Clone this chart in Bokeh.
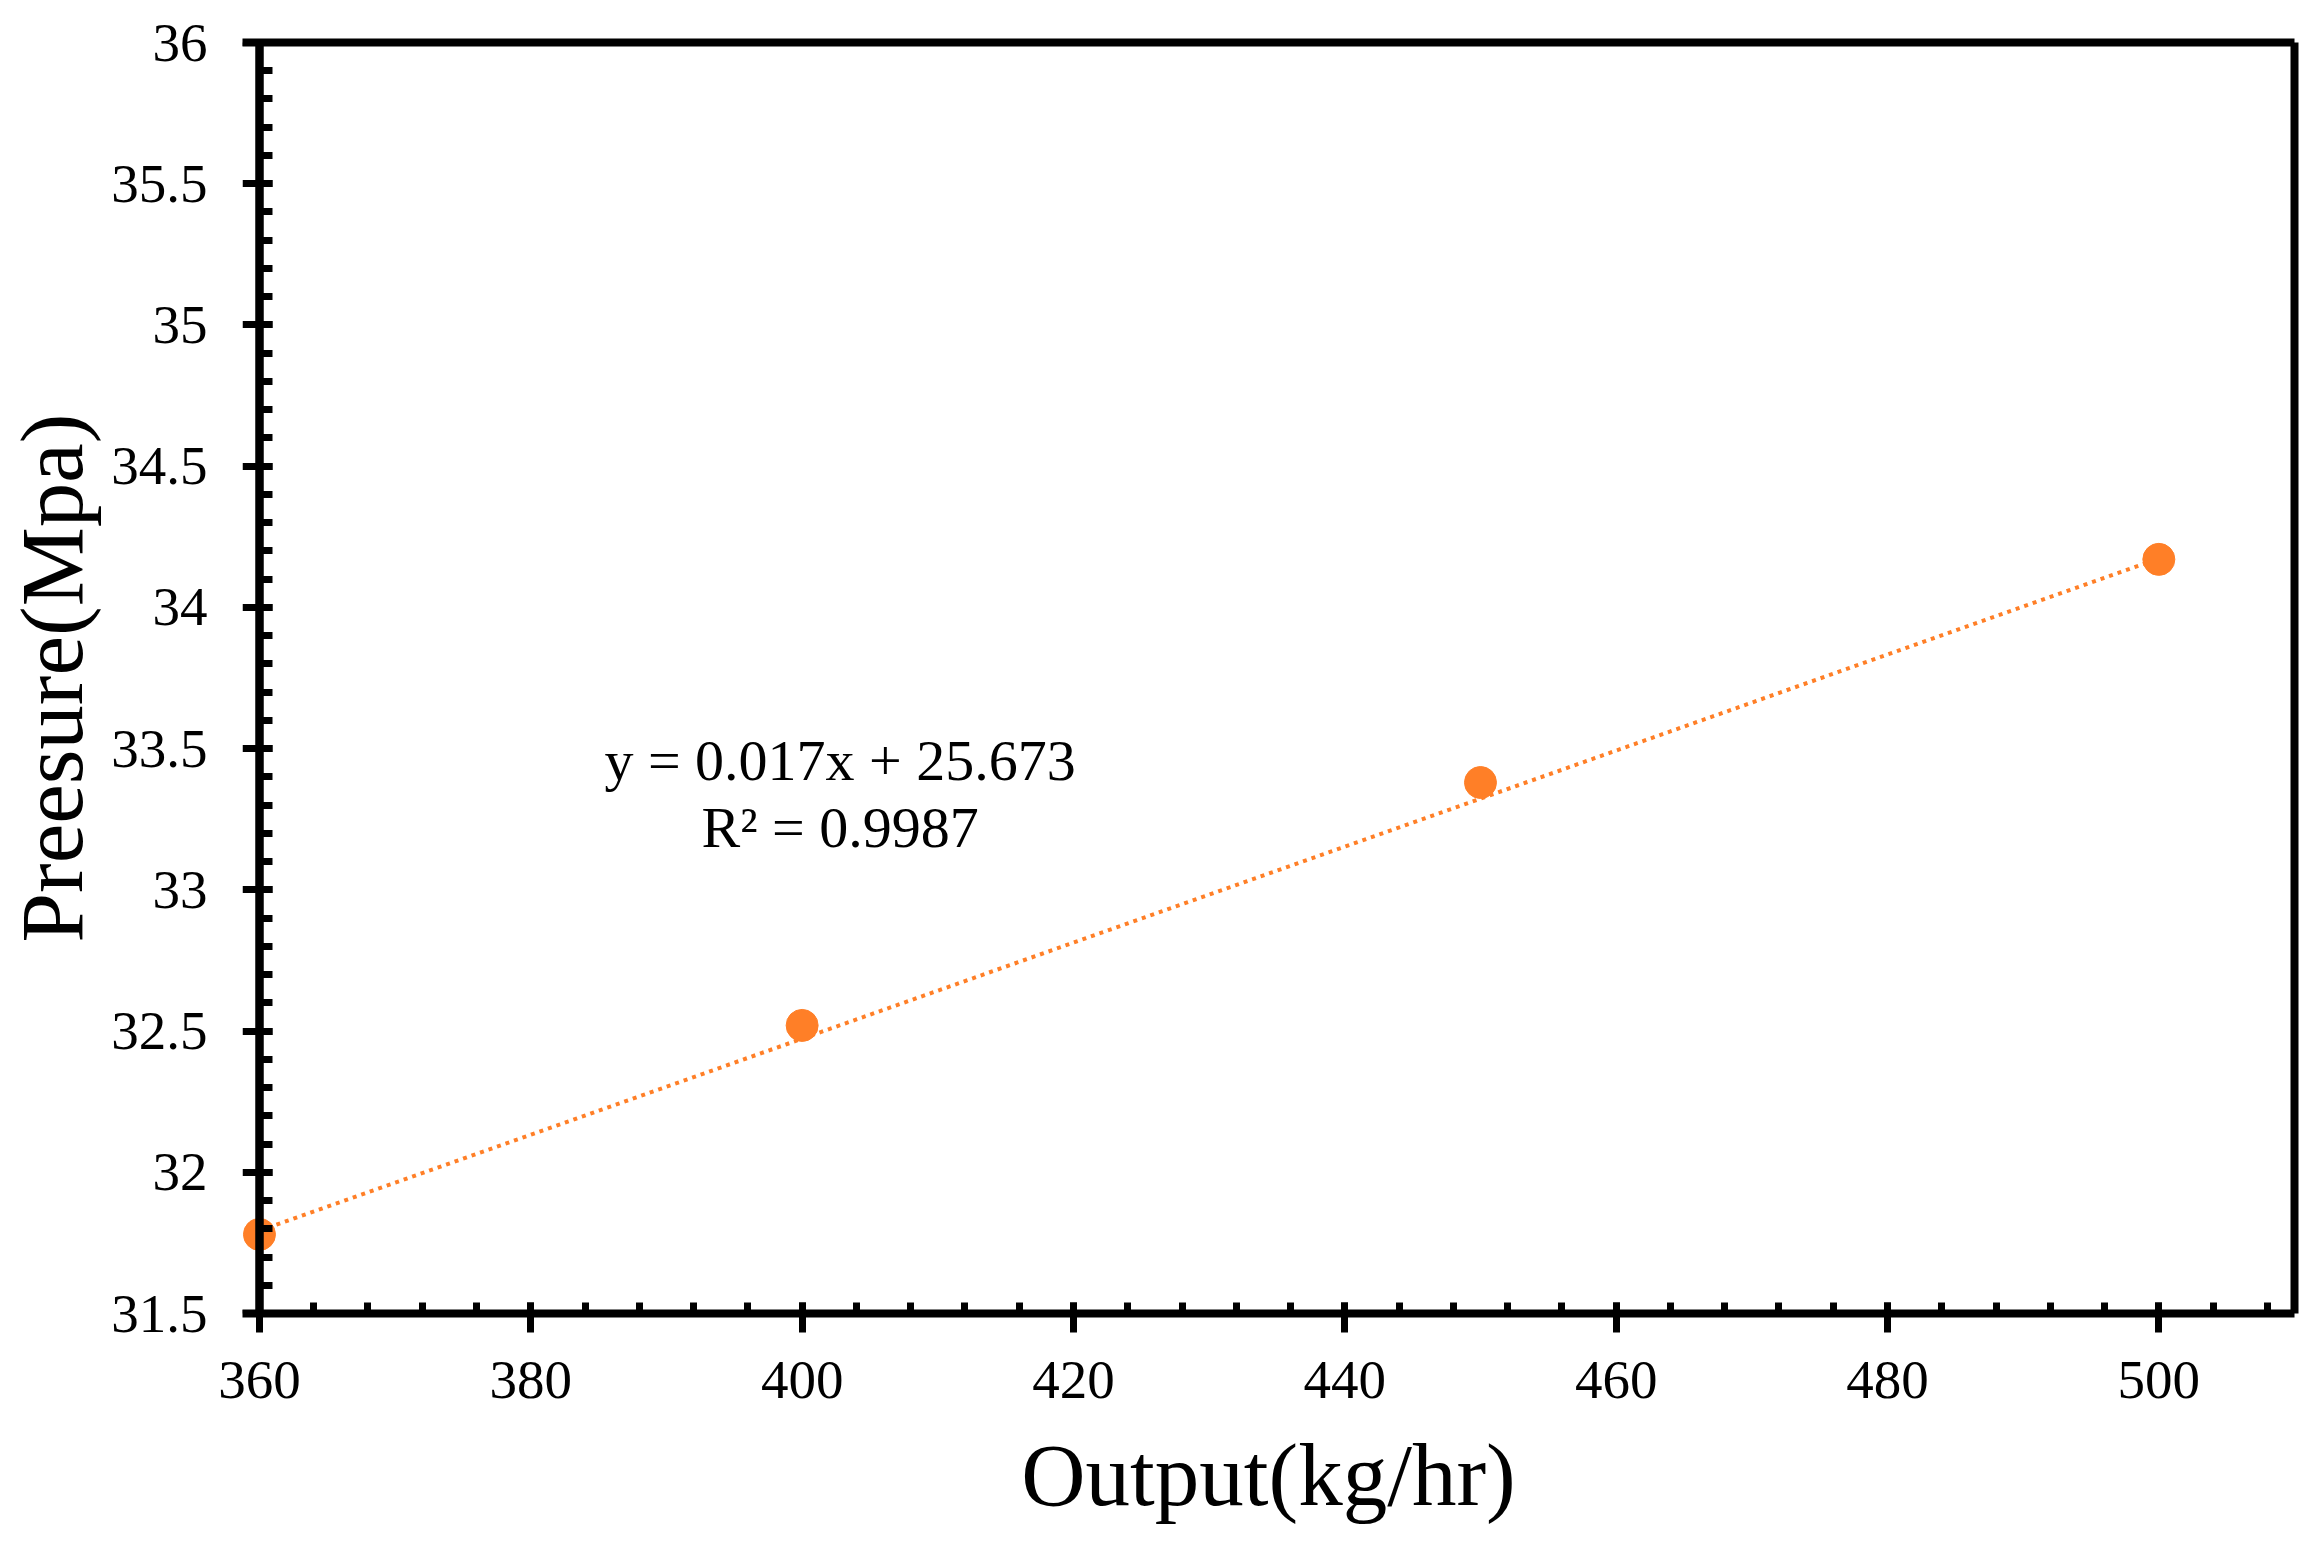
from bokeh.embed import file_html
from bokeh.models import ColumnDataSource, FixedTicker, Label, LinearAxis
from bokeh.plotting import figure
from bokeh.resources import INLINE
import numpy as np

# Data
output_kg_hr = [360, 400, 450, 500]
pressure_mpa = [31.78, 32.52, 33.38, 34.17]

# Linear trendline as printed on the chart
trend_slope = 0.017
trend_intercept = 25.673
trend_r2 = 0.9987

x_ticks = [360, 380, 400, 420, 440, 460, 480, 500]
x_tick_labels = ["360", "380", "400", "420", "440", "460", "480", "500"]
y_ticks = [31.5, 32, 32.5, 33, 33.5, 34, 34.5, 35, 35.5, 36]
y_tick_labels = ["31.5", "32", "32.5", "33", "33.5", "34", "34.5", "35", "35.5", "36"]

FONT = "Liberation Serif"
ORANGE = "#FF7F27"

x_minor = list(np.arange(360, 511, 4))
y_minor = list(np.round(np.arange(31.5, 36.01, 0.1), 1))


def bare_axis(**kw):
    # axis with a line and/or ticks only, no labels
    return LinearAxis(
        axis_line_color="black",
        axis_line_width=8,
        major_tick_in=0, major_tick_out=0,
        minor_tick_line_color="black",
        minor_tick_line_width=7,
        major_label_standoff=0, axis_label_standoff=0,
        **kw,
    )


# x range starts a little left of 360 so the first marker is not clipped;
# the visible y axis line is pinned at x=360
p = figure(
    width=2322,
    height=1548,
    x_range=(358.75, 510),
    y_range=(31.5, 36),
    x_axis_label="Output(kg/hr)",
    y_axis_label="Preesure(Mpa)",
    output_backend="svg",
    toolbar_location=None,
    tools="",
    min_border_left=242,
    min_border_right=28,
    min_border_top=42,
    min_border_bottom=235,
)

p.background_fill_color = "white"
p.border_fill_color = "white"
p.outline_line_color = None
p.grid.grid_line_color = None

# bottom axis
xax = p.below[0]
xax.ticker = FixedTicker(ticks=x_ticks, minor_ticks=x_minor)
xax.major_label_overrides = dict(zip(x_ticks, x_tick_labels))
xax.axis_line_color = "black"
xax.axis_line_width = 8
xax.major_tick_line_color = "black"
xax.major_tick_line_width = 7
xax.minor_tick_line_color = "black"
xax.minor_tick_line_width = 7
xax.major_tick_in = 11
xax.major_tick_out = 19
xax.minor_tick_in = 11
xax.minor_tick_out = 0
xax.major_label_standoff = 29
xax.axis_label_standoff = 25

# left axis: only tick labels and title (sits at the frame edge)
yax = p.left[0]
yax.ticker = FixedTicker(ticks=y_ticks)
yax.major_label_overrides = dict(zip(y_ticks, y_tick_labels))
yax.axis_line_color = None
yax.major_tick_line_color = None
yax.minor_tick_line_color = None
yax.major_tick_in = 0
yax.major_tick_out = 0
yax.minor_tick_in = 0
yax.minor_tick_out = 0
yax.major_label_standoff = 35
yax.axis_label_standoff = 7

for ax in (xax, yax):
    ax.major_label_text_font = FONT
    ax.major_label_text_font_size = "55px"
    ax.major_label_text_color = "black"
    ax.axis_label_text_font = FONT
    ax.axis_label_text_font_size = "89px"
    ax.axis_label_text_font_style = "normal"
    ax.axis_label_text_color = "black"

# plain top and right frame lines
p.add_layout(bare_axis(ticker=FixedTicker(ticks=[])), "above")
p.add_layout(bare_axis(ticker=FixedTicker(ticks=[])), "right")

# y axis line and ticks at x=360 (right-side axes, so "in" points left);
# long ticks at the labelled values, short ones every 0.1
p.add_layout(bare_axis(
    fixed_location=360,
    ticker=FixedTicker(ticks=[], minor_ticks=y_ticks),
    minor_tick_in=17, minor_tick_out=13,
), "right")
p.add_layout(bare_axis(
    fixed_location=360,
    ticker=FixedTicker(ticks=[], minor_ticks=y_minor),
    minor_tick_in=0, minor_tick_out=13,
), "right")

# Trendline over the measured span
trend_x = [min(output_kg_hr), max(output_kg_hr)]
trend_y = [trend_slope * v + trend_intercept for v in trend_x]
p.line(trend_x, trend_y, line_color=ORANGE, line_width=4, line_dash="4 5")

source = ColumnDataSource(data=dict(x=output_kg_hr, y=pressure_mpa))
p.scatter("x", "y", source=source, size=32, fill_color=ORANGE, line_color=ORANGE)

eq_text = f"y = {trend_slope}x + {trend_intercept}"
r2_text = f"R\u00b2 = {trend_r2}"
for txt, ypos in ((eq_text, 33.457), (r2_text, 33.22)):
    p.add_layout(Label(
        x=402.8, y=ypos, text=txt,
        text_font=FONT, text_font_size="58px", text_color="black",
        text_align="center", text_baseline="alphabetic",
    ))

open("out.html", "w").write(file_html(p, INLINE))
